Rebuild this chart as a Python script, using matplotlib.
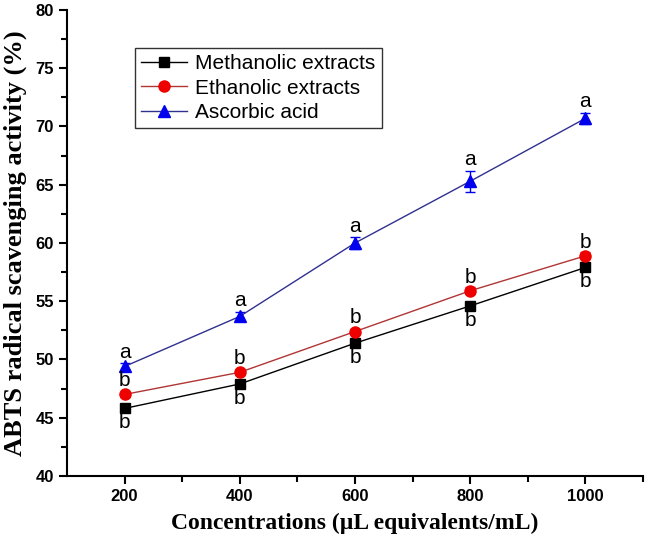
import numpy as np
import matplotlib.pyplot as plt

# Data
conc = [200, 400, 600, 800, 1000]
methanolic = [45.8, 47.9, 51.4, 54.6, 57.9]
ethanolic = [47.0, 48.9, 52.4, 55.9, 58.9]
ascorbic = [49.4, 53.7, 60.0, 65.3, 70.7]
methanolic_err = [0.2, 0.2, 0.2, 0.3, 0.3]
ethanolic_err = [0.2, 0.2, 0.2, 0.3, 0.3]
ascorbic_err = [0.3, 0.4, 0.5, 0.9, 0.5]
labels = ["Methanolic extracts", "Ethanolic extracts", "Ascorbic acid"]
letters_top = ["a", "a", "a", "a", "a"]
letters_mid = ["b", "b", "b", "b", "b"]
letters_low = ["b", "b", "b", "b", "b"]

fig = plt.figure(figsize=(6.46, 5.43), dpi=100)
ax = fig.add_axes([0.1037, 0.1234, 0.8917, 0.8582])

c1 = ax.errorbar(conc, methanolic, yerr=methanolic_err, color="black", marker="s",
                 markersize=7, mfc="black", mec="black", lw=1.0, capsize=3.5,
                 elinewidth=1.0)
c2 = ax.errorbar(conc, ethanolic, yerr=ethanolic_err, color="#b03535", marker="o",
                 markersize=8, mfc="#ee0000", mec="#ee0000", lw=1.0, capsize=3.5,
                 elinewidth=1.0, ecolor="#ee0000")
c3 = ax.errorbar(conc, ascorbic, yerr=ascorbic_err, color="#303090", marker="^",
                 markersize=8, mfc="#0000ee", mec="#0000ee", lw=1.0, capsize=3.5,
                 elinewidth=1.0, ecolor="#0000ee")

lf = dict(fontsize=15, ha="center", family="Liberation Sans", textcoords="offset points")
for x, y, e, t in zip(conc, ascorbic, ascorbic_err, letters_top):
    ax.annotate(t, (x, y + e), xytext=(0, 1), va="bottom", **lf)
for x, y, t in zip(conc, ethanolic, letters_mid):
    ax.annotate(t, (x, y), xytext=(0, 3), va="bottom", **lf)
for x, y, t in zip(conc, methanolic, letters_low):
    ax.annotate(t, (x, y), xytext=(0, -3.5), va="top", **lf)

ax.set_xlim(100, 1100)
ax.set_ylim(40, 80)
ax.set_xticks([200, 400, 600, 800, 1000])
ax.set_xticks([300, 500, 700, 900, 1100], minor=True)
ax.set_yticks(np.arange(40, 81, 5))
ax.set_yticks(np.arange(42.5, 80, 5), minor=True)
ax.spines["top"].set_visible(False)
ax.spines["right"].set_visible(False)
for s in ("left", "bottom"):
    ax.spines[s].set_linewidth(1.5)
ax.tick_params(which="major", direction="out", length=6, width=1.5)
ax.tick_params(which="minor", direction="out", length=4, width=1.5)
for lab in ax.get_xticklabels() + ax.get_yticklabels():
    lab.set_family("Liberation Sans")
    lab.set_fontweight("bold")
    lab.set_fontsize(12)

ax.set_xlabel("Concentrations (\u00b5L equivalents/mL)", family="Liberation Serif",
              fontweight="bold", fontsize=17, labelpad=6)
ax.set_ylabel("ABTS radical scavenging activity (%)", family="Liberation Serif",
              fontweight="bold", fontsize=19, labelpad=6)

leg = ax.legend([c1[0], c2[0], c3[0]], labels, loc="upper left",
                bbox_to_anchor=(0.118, 0.918), borderaxespad=0, frameon=True,
                fancybox=False, edgecolor="black",
                prop={"family": "Liberation Sans", "size": 15},
                handlelength=2.2, borderpad=0.3, labelspacing=0.25, handletextpad=0.4)
leg.get_frame().set_linewidth(1.0)

fig.savefig("out.png", dpi=100)
